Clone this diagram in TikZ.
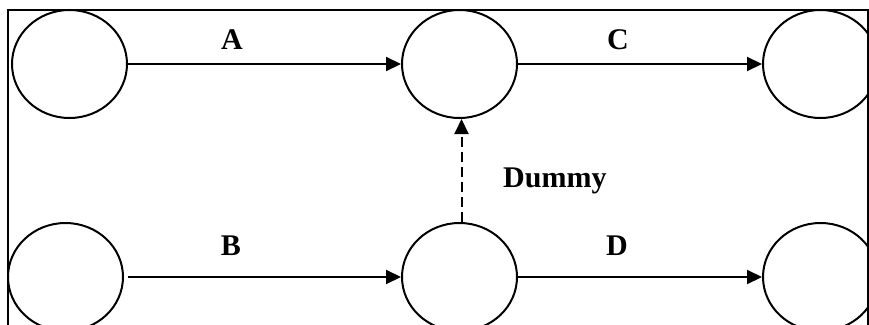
\documentclass[tikz,border=0pt]{standalone}
\usepackage{fontspec}
\setmainfont{Liberation Serif}
\usetikzlibrary{shapes.geometric,arrows.meta}
\begin{document}
\begin{tikzpicture}[x=1pt,y=1pt,
  event/.style={draw,line width=2pt,ellipse,inner sep=0pt,
    minimum width=115pt,minimum height=108pt},
  activity/.style={line width=2pt,-{Triangle[length=15pt,width=14pt]}},
  lbl/.style={font=\fontsize{30}{34}\selectfont\bfseries,inner sep=0pt,anchor=base}]
\useasboundingbox (0,0) rectangle (869,-324);
% frame around the network
\draw[line width=2pt] (8,-340) |- (868,-10) -- (868,-340);
% events
\node[event] (tl) at (69.5,-64) {};
\node[event] (tm) at (459.5,-64) {};
\node[event] (tr) at (820.5,-64) {};
\node[event] (bl) at (65.5,-277) {};
\node[event] (bm) at (459.5,-277) {};
\node[event] (br) at (820.5,-277) {};
% activities
\draw[activity] (tl) -- (tm);
\draw[activity] (tm) -- (tr);
\draw[activity,shorten <=4pt] (bl) -- (bm);
\draw[activity] (bm) -- (br);
\draw[activity,dash pattern=on 10pt off 5pt] ([xshift=2pt]bm.north) -- ([xshift=2pt]tm.south);
% labels
\node[lbl] (la) at (232,-49) {A};
\node[lbl] (lc) at (618,-49) {C};
\node[lbl] (lb) at (231,-255) {B};
\node[lbl] (ld) at (617,-255) {D};
\node[lbl,anchor=base west] (ldm) at (503,-187) {Dummy};
\end{tikzpicture}
\end{document}
